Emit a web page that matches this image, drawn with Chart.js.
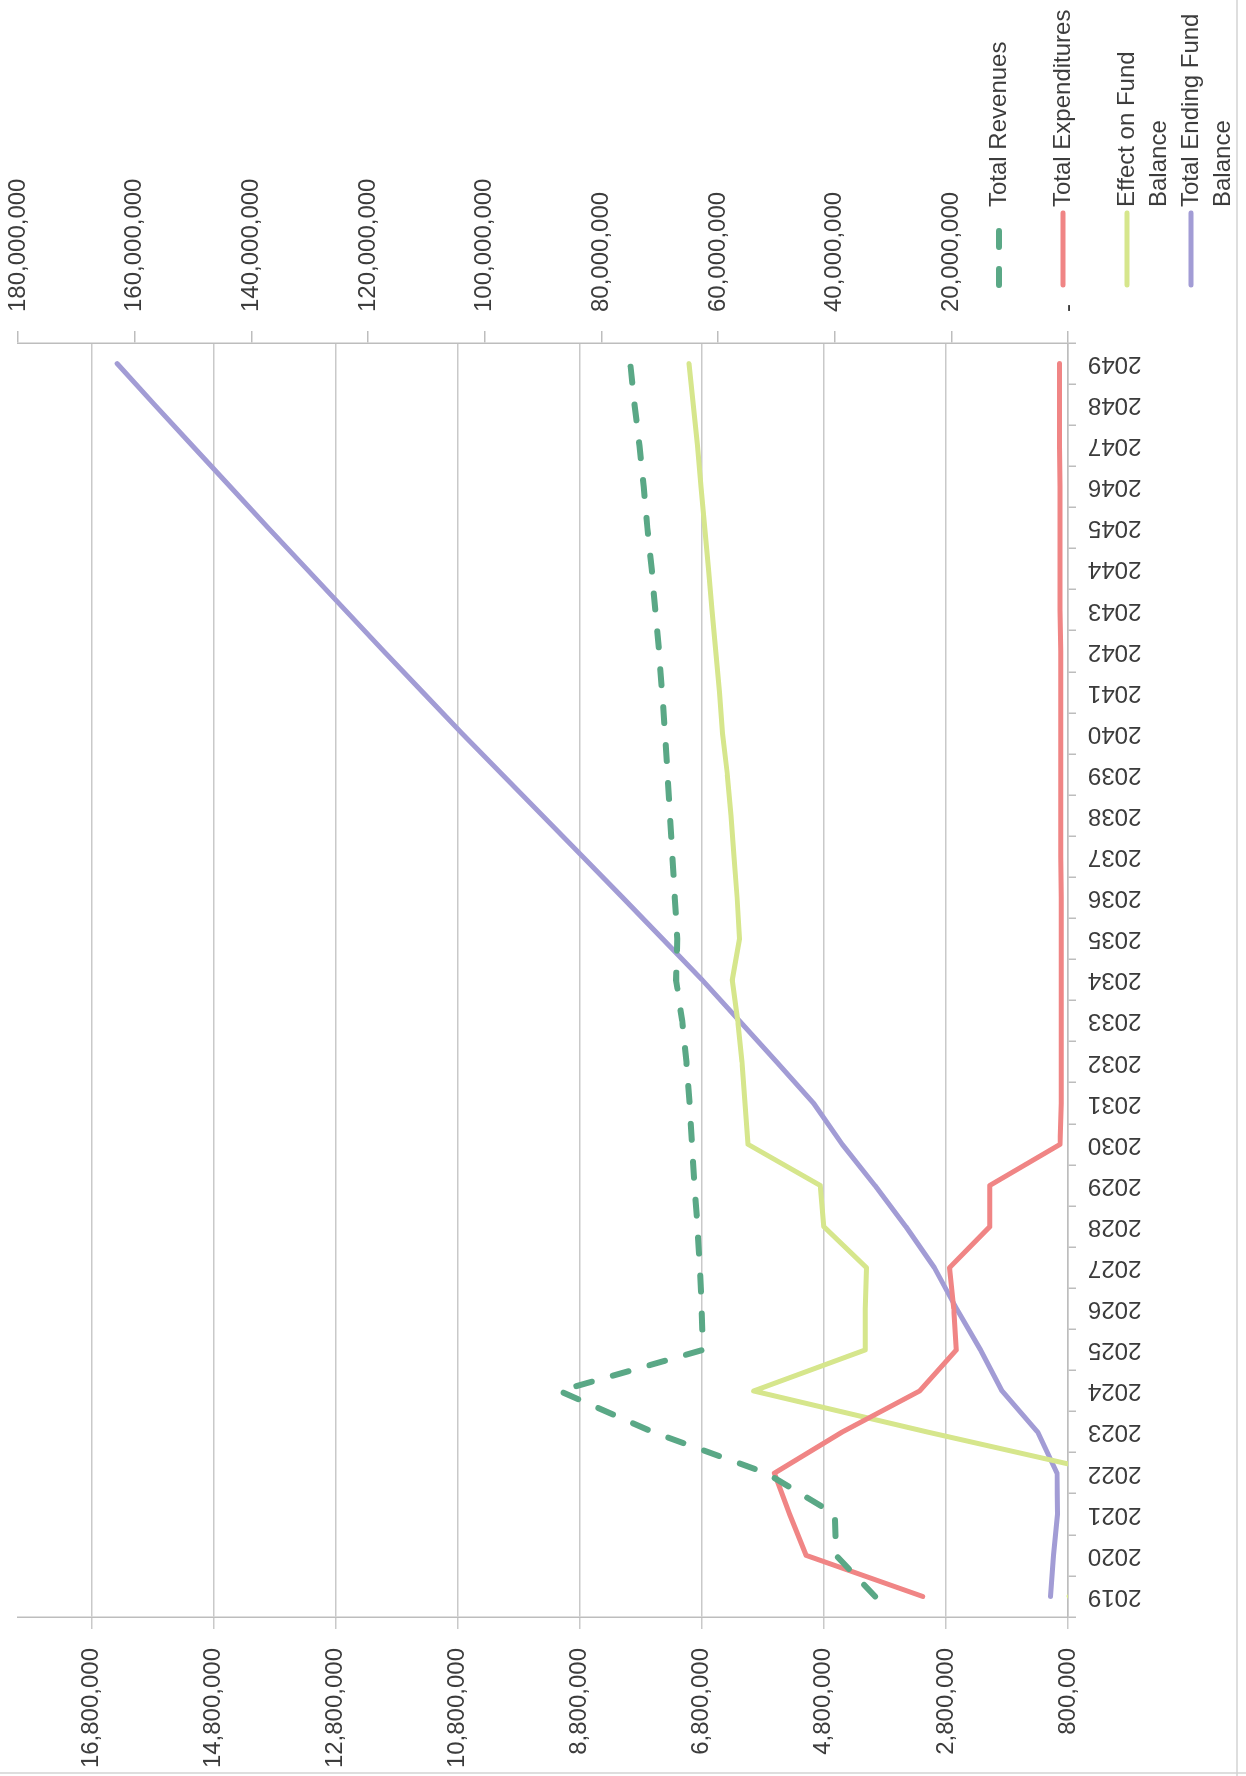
<!DOCTYPE html>
<html>
<head>
<meta charset="utf-8">
<title>Fund Projection 2019–2049</title>
<script src="https://cdn.jsdelivr.net/npm/chart.js@4.4.1/dist/chart.umd.min.js"></script>
<style>
  html, body { margin: 0; padding: 0; background: #ffffff; width: 1246px; height: 1776px; overflow: hidden; }
  /* The chart is laid out landscape and turned a quarter turn counter-clockwise onto the portrait page. */
  #frame {
    position: absolute; left: 0; top: 0;
    width: 1776px; height: 1246px;
    transform-origin: 0 0;
    transform: translate(0, 1776px) rotate(-90deg);
  }
  canvas { display: block; }
</style>
</head>
<body>
<div id="frame"><canvas id="chart" width="1776" height="1246"></canvas></div>
<script>
// Fiscal years on the category axis
const years = ['2019','2020','2021','2022','2023','2024','2025','2026','2027','2028','2029',
               '2030','2031','2032','2033','2034','2035','2036','2037','2038','2039',
               '2040','2041','2042','2043','2044','2045','2046','2047','2048','2049'];

// Left axis series (dollars)
const totalRevenues = [3960000, 4600000, 4620000, 5740000, 7600000, 9130000, 6780000, 6800000, 6830000, 6870000, 6920000,
                       6960000, 7000000, 7050000, 7120000, 7220000, 7200000, 7240000, 7280000, 7320000, 7360000,
                       7400000, 7450000, 7500000, 7560000, 7620000, 7690000, 7750000, 7820000, 7900000, 7970000];

const totalExpenditures = [3180000, 5090000, 5360000, 5610000, 4500000, 3230000, 2630000, 2670000, 2740000, 2080000, 2080000,
                           930000, 910000, 910000, 910000, 910000, 910000, 910000, 920000, 920000, 920000,
                           920000, 920000, 920000, 930000, 930000, 930000, 930000, 940000, 940000, 940000];

const effectOnFundBalance = [780000, -490000, -740000, 130000, 3100000, 5950000, 4120000, 4120000, 4100000, 4800000, 4860000,
                             6040000, 6090000, 6140000, 6210000, 6300000, 6180000, 6220000, 6270000, 6320000, 6380000,
                             6460000, 6510000, 6570000, 6630000, 6690000, 6750000, 6810000, 6870000, 6940000, 7010000];

// Right axis series (dollars)
const totalEndingFundBalance = [3000000, 2500000, 1800000, 1900000, 5200000, 11300000, 15000000, 19100000, 22900000, 27800000, 33100000,
                                38700000, 43600000, 49900000, 56300000, 62700000, 69500000, 76300000, 83200000, 90100000, 97000000,
                                103900000, 110600000, 117300000, 123900000, 130500000, 137100000, 143600000, 150100000, 156600000, 163000000];

// Axis tick values
const leftTicks = [800000, 2800000, 4800000, 6800000, 8800000, 10800000, 12800000, 14800000, 16800000];
const rightTicks = [0, 20000000, 40000000, 60000000, 80000000, 100000000, 120000000, 140000000, 160000000, 180000000];

const seriesNames = ['Total Revenues', 'Total Expenditures', 'Effect on Fund Balance', 'Total Ending Fund Balance'];
const seriesColors = ['#5aa886', '#f08585', '#d6e68c', '#a29cd5'];

const TEXT = '#3c3c3c';
const AXIS = '#bdbdbd';
const GRID = '#c9c9c9';
const FONT = { family: "'Liberation Sans', Arial, sans-serif", size: 24 };
const fmt = v => Number(v).toLocaleString('en-US');

// Axis boxes keep fixed sizes and do not push the plot area inward for end labels
function fixBox(size, key) {
  return function (scale) {
    scale[key] = size;
    scale.paddingTop = 0; scale.paddingBottom = 0;
    scale.paddingLeft = 0; scale.paddingRight = 0;
  };
}

// Legend stacked below the secondary axis labels, with wrapped entry text
const stackedLegend = {
  id: 'stackedLegend',
  afterDraw(chart) {
    const { ctx, chartArea } = chart;
    const symX0 = chartArea.right + 58, symX1 = chartArea.right + 130;
    const textX = chartArea.right + 136;
    const maxW = 212, rowGap = 64, lineH = 32;
    let y = chartArea.bottom - 69;
    ctx.save();
    ctx.font = `24px ${FONT.family}`;
    ctx.fillStyle = TEXT;
    ctx.textBaseline = 'middle';
    ctx.textAlign = 'left';
    chart.data.datasets.forEach((ds) => {
      // symbol
      ctx.beginPath();
      ctx.strokeStyle = ds.borderColor;
      ctx.lineWidth = ds.borderWidth;
      ctx.lineCap = 'round';
      ctx.setLineDash(ds.borderDash || []);
      ctx.moveTo(symX0, y);
      ctx.lineTo(symX1, y);
      ctx.stroke();
      ctx.setLineDash([]);
      // text, wrapped to the legend width
      const words = ds.label.split(' ');
      const lines = [];
      let cur = '';
      words.forEach(w => {
        const t = cur ? cur + ' ' + w : w;
        if (ctx.measureText(t).width > maxW && cur) { lines.push(cur); cur = w; } else { cur = t; }
      });
      lines.push(cur);
      lines.forEach((ln, i) => ctx.fillText(ln, textX, y + i * lineH));
      y += rowGap;
    });
    ctx.restore();
  }
};

// Thin outer frame lines
const outerFrame = {
  id: 'outerFrame',
  beforeDraw(chart) {
    const { ctx, width, height } = chart;
    ctx.save();
    ctx.strokeStyle = '#d4d4d4';
    ctx.lineWidth = 1.5;
    ctx.beginPath();
    ctx.moveTo(0, height - 9);
    ctx.lineTo(width, height - 9);
    ctx.moveTo(3, 0);
    ctx.lineTo(3, height);
    ctx.stroke();
    ctx.restore();
  }
};

new Chart(document.getElementById('chart'), {
  type: 'line',
  data: {
    labels: years,
    datasets: [
      { label: seriesNames[0], data: totalRevenues, yAxisID: 'y', borderColor: seriesColors[0], borderWidth: 6,
        borderDash: [16, 22], borderCapStyle: 'round' },
      { label: seriesNames[1], data: totalExpenditures, yAxisID: 'y', borderColor: seriesColors[1], borderWidth: 5 },
      { label: seriesNames[2], data: effectOnFundBalance, yAxisID: 'y', borderColor: seriesColors[2], borderWidth: 5 },
      { label: seriesNames[3], data: totalEndingFundBalance, yAxisID: 'y1', borderColor: seriesColors[3], borderWidth: 5 }
    ]
  },
  options: {
    responsive: false,
    animation: false,
    devicePixelRatio: 1,
    events: [],
    layout: { padding: { top: 18, left: 0, right: 0, bottom: 0 } },
    elements: {
      point: { radius: 0 },
      line: { tension: 0, borderJoinStyle: 'round', borderCapStyle: 'round', fill: false }
    },
    plugins: { legend: { display: false }, tooltip: { enabled: false } },
    scales: {
      x: {
        type: 'category',
        offset: true,
        grid: { display: true, drawOnChartArea: false, drawTicks: true, tickLength: 8, offset: true, color: AXIS, lineWidth: 1.5 },
        border: { display: true, color: AXIS, width: 1.5 },
        ticks: { autoSkip: false, minRotation: 90, maxRotation: 90, padding: 12, font: FONT, color: TEXT },
        afterFit: fixBox(178, 'height')
      },
      y: {
        position: 'left',
        min: 800000,
        max: 18000000,
        afterBuildTicks(scale) { scale.ticks = leftTicks.map(v => ({ value: v })); },
        grid: { color: GRID, lineWidth: 1.5, drawTicks: true, tickLength: 12 },
        border: { display: true, color: AXIS, width: 1.5 },
        ticks: { padding: 19, font: FONT, color: TEXT, callback: v => fmt(v) },
        afterFit: fixBox(159, 'width')
      },
      y1: {
        position: 'right',
        min: 0,
        max: 180000000,
        afterBuildTicks(scale) { scale.ticks = rightTicks.map(v => ({ value: v })); },
        grid: { drawOnChartArea: false, drawTicks: true, tickLength: 12, color: AXIS, lineWidth: 1.5 },
        border: { display: true, color: AXIS, width: 1.5 },
        ticks: { padding: 19, font: FONT, color: TEXT, callback: v => (v === 0 ? '-' : fmt(v)) },
        afterFit: fixBox(343, 'width')
      }
    }
  },
  plugins: [outerFrame, stackedLegend]
});
</script>
</body>
</html>
